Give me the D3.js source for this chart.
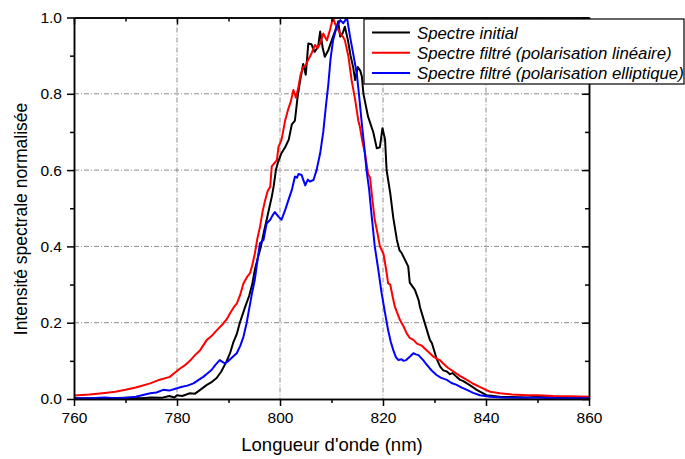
<!DOCTYPE html>
<html lang="fr">
<head>
<meta charset="UTF-8">
<title>Spectres</title>
<script src="https://d3js.org/d3.v7.min.js"></script>
<style>
  body { margin: 0; background: #fff; }
  svg { display: block; font-family: "Liberation Sans", Arial, sans-serif; }
  .grid line { stroke: #8a8a8a; stroke-width: 1; stroke-dasharray: 5,2,1,2; }
  .axis path, .axis line { stroke: #000; stroke-width: 1.5; }
  .axis text { font-size: 15.5px; fill: #000; }
  .curve { fill: none; stroke-width: 2; stroke-linejoin: round; }
</style>
</head>
<body>
<svg width="685" height="459"></svg>
<script>
// wavelength (nm), normalised intensity
const spectreInitial = [
  [760,0.002],[765,0.001],[770,0.003],[773,0.002],[775,0.004],[777,0.003],[778.5,0.008],[779.5,0.004],
  [780,0.01],[781,0.008],[782.5,0.015],[783.5,0.014],[784.5,0.024],[785.8,0.037],[786.8,0.045],
  [787.7,0.055],[788.6,0.072],[789.6,0.098],[790.3,0.12],[790.9,0.147],[791.6,0.17],[792.2,0.2],
  [793.2,0.24],[794,0.27],[794.6,0.3],[795.1,0.338],[795.7,0.37],[796.3,0.4],[796.9,0.44],
  [797.4,0.469],[797.9,0.5],[798.4,0.53],[798.8,0.56],[799.2,0.6],[799.6,0.62],[800.3,0.645],
  [801,0.66],[801.7,0.68],[802.3,0.72],[802.9,0.73],[803.4,0.79],[803.9,0.834],[804.5,0.878],
  [805,0.85],[805.5,0.932],[806.1,0.93],[806.7,0.91],[807.4,0.923],[807.8,0.963],[808.3,0.92],
  [808.7,0.897],[809.4,0.915],[810.3,0.95],[811,0.976],[811.3,0.99],[811.7,0.95],[812.2,0.96],
  [812.6,0.976],[813.2,0.94],[813.7,0.9],[814.2,0.87],[814.6,0.836],[815.1,0.87],[815.6,0.86],
  [815.9,0.845],[816.2,0.8],[817.1,0.74],[818.1,0.7],[818.8,0.657],[819.4,0.66],[819.9,0.71],
  [820.4,0.68],[820.7,0.6],[821.4,0.54],[822,0.475],[822.7,0.417],[823.2,0.39],[823.6,0.383],
  [824.3,0.364],[824.9,0.347],[825.2,0.305],[826.2,0.286],[826.9,0.26],[827.2,0.24],[828.2,0.195],
  [829.1,0.155],[829.5,0.146],[830.4,0.106],[831.1,0.085],[831.7,0.075],[832.4,0.072],[833,0.065],
  [833.5,0.068],[834.3,0.058],[835,0.05],[835.6,0.047],[836.3,0.041],[837,0.035],[838.2,0.024],
  [839,0.018],[840.1,0.01],[841.5,0.008],[842.7,0.006],[845,0.005],[848,0.004],[850,0.006],
  [853,0.004],[855,0.003],[858,0.003],[860,0.002]
];

const spectreLineaire = [
  [760,0.009],[763,0.012],[766,0.016],[768,0.019],[770,0.024],[772,0.03],[774.8,0.041],[776.5,0.05],
  [778.6,0.058],[779.5,0.068],[780.6,0.08],[781.5,0.088],[782.5,0.1],[783.5,0.115],[784.5,0.128],
  [785.8,0.155],[786.7,0.165],[787.7,0.18],[789,0.198],[789.7,0.21],[790.3,0.225],[791,0.24],
  [791.6,0.25],[792.2,0.27],[792.9,0.303],[793.6,0.32],[794.2,0.33],[794.6,0.35],[795.1,0.38],
  [795.6,0.42],[796.1,0.45],[796.6,0.49],[797.1,0.52],[797.6,0.545],[798.1,0.556],[798.4,0.61],
  [798.9,0.618],[799.4,0.626],[799.7,0.66],[800.3,0.68],[801,0.73],[801.6,0.76],[802.1,0.78],
  [802.6,0.81],[803.1,0.79],[803.6,0.82],[804,0.85],[804.5,0.87],[805,0.875],[805.5,0.89],
  [806.1,0.905],[806.8,0.928],[807.3,0.92],[807.8,0.932],[808.4,0.958],[809.1,0.94],[809.7,0.967],
  [810.3,1.0],[810.8,0.98],[811.2,0.97],[811.7,0.958],[812.2,0.95],[812.6,0.94],[813.3,0.897],
  [813.9,0.836],[814.6,0.784],[815.2,0.73],[815.5,0.714],[816,0.675],[816.5,0.644],[817.1,0.59],
  [817.5,0.58],[817.8,0.54],[818.4,0.469],[819,0.43],[819.4,0.4],[820.1,0.38],[820.6,0.34],
  [821,0.303],[821.4,0.3],[822,0.26],[822.3,0.242],[823.3,0.207],[824,0.19],[824.6,0.172],
  [825.2,0.16],[825.9,0.155],[826.6,0.145],[827.5,0.14],[828.3,0.13],[829.1,0.12],[829.8,0.111],
  [830.5,0.105],[831,0.102],[831.7,0.093],[832.6,0.082],[833.7,0.072],[835,0.06],[836.3,0.05],
  [837.5,0.04],[838.8,0.032],[840,0.024],[840.8,0.019],[842.7,0.015],[845,0.012],[848,0.01],
  [850,0.01],[853,0.008],[856,0.007],[860,0.006]
];

const spectreElliptique = [
  [760,0.002],[763,0.002],[766,0.004],[768,0.002],[770,0.003],[772,0.006],[774.8,0.015],[776,0.017],
  [777.3,0.024],[778.5,0.022],[780,0.028],[781,0.032],[782,0.035],[783.2,0.041],[784.2,0.05],
  [785.1,0.058],[786,0.068],[786.7,0.076],[787.5,0.09],[788.3,0.102],[789.3,0.093],[790,0.1],
  [790.8,0.11],[791.6,0.12],[792.3,0.14],[792.9,0.163],[793.5,0.198],[794.2,0.25],[794.6,0.28],
  [795.1,0.312],[795.8,0.38],[796.1,0.408],[796.8,0.417],[797.4,0.46],[798.1,0.47],[798.5,0.48],
  [799,0.49],[799.7,0.478],[800.3,0.47],[801,0.495],[801.6,0.52],[802.3,0.548],[802.9,0.583],
  [803.3,0.58],[803.6,0.59],[804.2,0.587],[804.9,0.56],[805.4,0.575],[805.8,0.57],[806.5,0.574],
  [807.1,0.6],[807.8,0.644],[808.4,0.7],[808.9,0.766],[809.4,0.827],[809.8,0.89],[810.3,0.94],
  [811,0.976],[811.7,0.993],[812.3,0.985],[813,1.0],[813.6,0.95],[814.2,0.906],[814.9,0.854],
  [815.4,0.79],[815.9,0.72],[816.3,0.67],[816.8,0.6],[817.3,0.55],[817.8,0.48],[818.4,0.4],
  [819.1,0.338],[819.7,0.28],[820.4,0.225],[821,0.18],[821.5,0.15],[822,0.128],[822.5,0.11],
  [823,0.102],[823.6,0.104],[824,0.1],[824.5,0.102],[825.2,0.111],[825.9,0.12],[826.4,0.117],
  [826.9,0.115],[827.8,0.102],[828.2,0.095],[829.1,0.08],[829.5,0.074],[830.4,0.063],[831.2,0.056],
  [832.4,0.05],[833.3,0.042],[834.3,0.037],[835.3,0.03],[836.3,0.024],[837.5,0.016],[838.8,0.01],
  [840.8,0.006],[843,0.004],[846,0.003],[850,0.003],[855,0.002],[860,0.002]
];

const xTicks = [760, 780, 800, 820, 840, 860];
const xMinor = [770, 790, 810, 830, 850];
const yTicks = [0, 0.2, 0.4, 0.6, 0.8, 1.0];
const yMinor = [0.1, 0.3, 0.5, 0.7, 0.9];

const series = [
  { name: "Spectre initial", color: "#000000", data: spectreInitial },
  { name: "Spectre filtré (polarisation linéaire)", color: "#ff0000", data: spectreLineaire },
  { name: "Spectre filtré (polarisation elliptique)", color: "#0000ff", data: spectreElliptique }
];

const margin = { top: 17.5, right: 96, bottom: 60, left: 74 };
const W = 685, H = 459;
const width = W - margin.left - margin.right;
const height = H - margin.top - margin.bottom;

const svg = d3.select("svg");
const g = svg.append("g").attr("transform", `translate(${margin.left},${margin.top})`);

const x = d3.scaleLinear().domain([760, 860]).range([0, width]);
const y = d3.scaleLinear().domain([0, 1]).range([height, 0]);

svg.append("defs").append("clipPath").attr("id", "clip")
  .append("rect").attr("width", width).attr("height", height);

// grille
const grid = g.append("g").attr("class", "grid");
grid.selectAll(".gx").data(xTicks.slice(1, -1)).enter().append("line")
  .attr("x1", d => x(d)).attr("x2", d => x(d)).attr("y1", 0).attr("y2", height);
grid.selectAll(".gy").data(yTicks.slice(1, -1)).enter().append("line")
  .attr("x1", 0).attr("x2", width).attr("y1", d => y(d)).attr("y2", d => y(d));

// courbes
const line = d3.line().x(d => x(d[0])).y(d => y(d[1]));
g.append("g").attr("clip-path", "url(#clip)")
  .selectAll("path").data(series).enter().append("path")
  .attr("class", "curve")
  .attr("stroke", d => d.color)
  .attr("d", d => line(d.data));

// axes
const fmt = d3.format(".1f");
g.append("g").attr("class", "axis").attr("transform", `translate(0,${height})`)
  .call(d3.axisBottom(x).tickValues(xTicks).tickSize(7).tickSizeOuter(0).tickPadding(6));
g.append("g").attr("class", "axis").attr("transform", `translate(0,${height})`)
  .call(d3.axisBottom(x).tickValues(xMinor).tickSize(4).tickSizeOuter(0).tickFormat(""));
g.append("g").attr("class", "axis")
  .call(d3.axisLeft(y).tickValues(yTicks).tickSize(7).tickSizeOuter(0).tickPadding(5).tickFormat(fmt));
g.append("g").attr("class", "axis")
  .call(d3.axisLeft(y).tickValues(yMinor).tickSize(4).tickSizeOuter(0).tickFormat(""));
g.append("g").attr("class", "axis")
  .call(d3.axisTop(x).tickValues(xTicks).tickSize(-7).tickSizeOuter(0).tickFormat(""));
g.append("g").attr("class", "axis")
  .call(d3.axisTop(x).tickValues(xMinor).tickSize(-4).tickSizeOuter(0).tickFormat(""));
g.append("g").attr("class", "axis").attr("transform", `translate(${width},0)`)
  .call(d3.axisRight(y).tickValues(yTicks).tickSize(-7).tickSizeOuter(0).tickFormat(""));
g.append("g").attr("class", "axis").attr("transform", `translate(${width},0)`)
  .call(d3.axisRight(y).tickValues(yMinor).tickSize(-4).tickSizeOuter(0).tickFormat(""));

// titres
svg.append("text")
  .attr("x", 332)
  .attr("y", 451)
  .attr("text-anchor", "middle")
  .style("font-size", "18.5px")
  .text("Longueur d'onde (nm)");

svg.append("text")
  .attr("transform", "translate(27,219) rotate(-90)")
  .attr("text-anchor", "middle")
  .style("font-size", "17.5px")
  .text("Intensité spectrale normalisée");

// légende
const legend = svg.append("g").attr("transform", "translate(364,19)");
legend.append("rect")
  .attr("width", 320).attr("height", 65)
  .attr("fill", "#fff").attr("stroke", "#000").attr("stroke-width", 1.2);
series.forEach((s, i) => {
  const row = legend.append("g").attr("transform", `translate(0,${13.5 + i * 20.3})`);
  row.append("line").attr("x1", 8).attr("x2", 46)
    .attr("stroke", s.color).attr("stroke-width", 2);
  row.append("text").attr("x", 53).attr("y", 6)
    .style("font-size", "16.8px").style("font-style", "italic")
    .text(s.name);
});
</script>
</body>
</html>
